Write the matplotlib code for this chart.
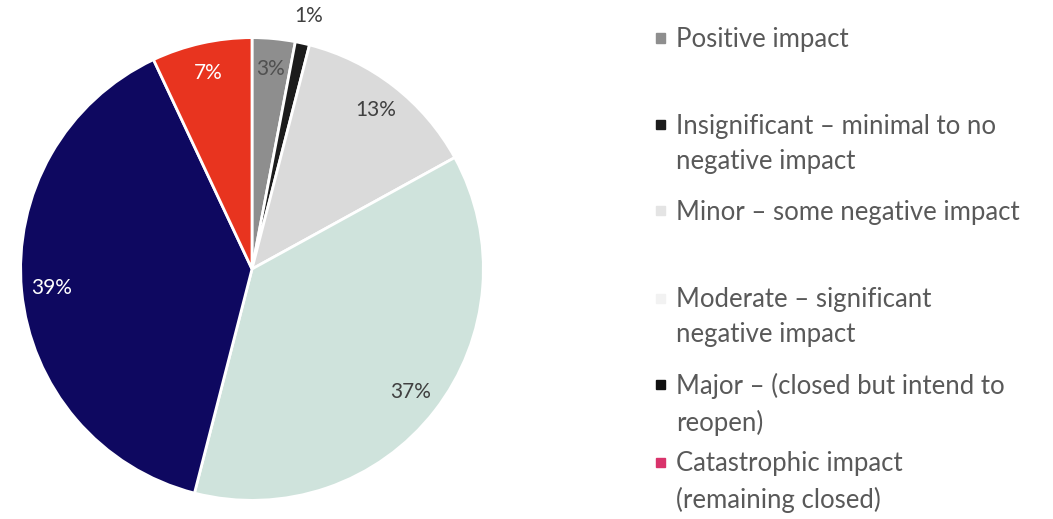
import matplotlib.pyplot as plt
from matplotlib.patches import Rectangle

plt.rcParams['font.family'] = ['Lato', 'DejaVu Sans']

categories = [
    "Positive impact",
    "Insignificant \u2013 minimal to no\nnegative impact",
    "Minor \u2013 some negative impact",
    "Moderate \u2013 significant\nnegative impact",
    "Major \u2013 (closed but intend to\nreopen)",
    "Catastrophic impact\n(remaining closed)",
]
shares = [3, 1, 13, 37, 39, 7]
pie_colors = ["#8e8e8e", "#1c1c1c", "#dadada", "#cfe3dc", "#0e0860", "#e8341f"]
key_colors = ["#8e8e8e", "#1c1c1c", "#e4e4e4", "#f2f2f2", "#111111", "#d9336b"]
pct_colors = ["#505050", "#404040", "#404040", "#404040", "white", "white"]

fig = plt.figure(figsize=(10.53, 5.19), dpi=100)
ax = fig.add_axes([16 / 1053, 14 / 519, 472 / 1053, 472 / 519])

wedges, texts, autotexts = ax.pie(
    shares, colors=pie_colors, startangle=90, counterclock=False,
    autopct="%d%%", pctdistance=0.87, radius=1.0,
    wedgeprops=dict(edgecolor="white", linewidth=2),
    textprops=dict(fontsize=15),
)
for t, c in zip(autotexts, pct_colors):
    t.set_color(c)
# the thin slice gets its label outside the pie
x, y = autotexts[1].get_position()
autotexts[1].set_position((x * 1.12 / 0.87, y * 1.12 / 0.87))
ax.set_xlim(-1.02, 1.02)
ax.set_ylim(-1.02, 1.02)
ax.set_aspect("equal")

# key on the right, one square per category
rows = [38, 125, 211, 298, 384, 462]
for label, col, ypix in zip(categories, key_colors, rows):
    yf = 1 - ypix / 519
    fig.patches.append(Rectangle((656 / 1053, yf - 4.5 / 519), 9 / 1053, 9 / 519,
                                 transform=fig.transFigure, color=col))
    fig.text(676 / 1053, yf + 11 / 519, label, fontsize=18.5, color="#595959",
             va="top", ha="left", linespacing=1.52)

fig.savefig("out.png", dpi=100, facecolor="white")
